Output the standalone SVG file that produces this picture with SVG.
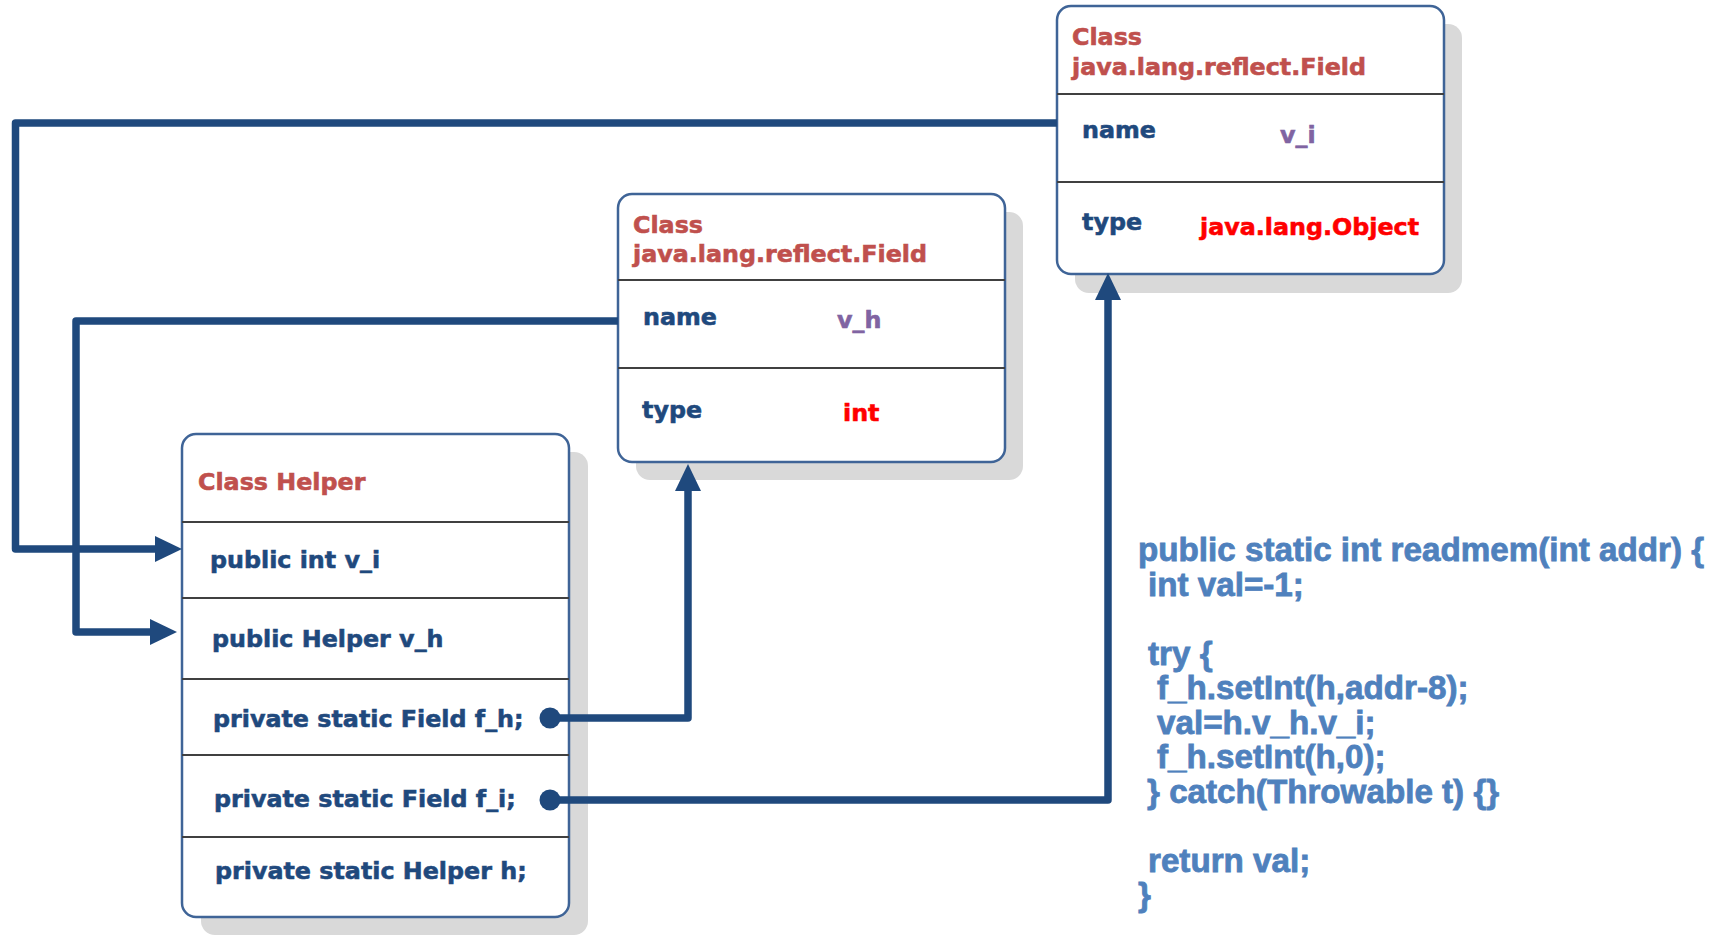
<svg xmlns="http://www.w3.org/2000/svg" width="1723" height="936" viewBox="0 0 1723 936">
<defs>
<style>
.box{fill:#ffffff;stroke:#3f6497;stroke-width:2.5}
.shadow{fill:#d9d9d9;stroke:none}
.div{stroke:#404040;stroke-width:2}
.t{font-family:"DejaVu Sans",Verdana,sans-serif;font-weight:bold;font-size:23.8px;stroke-width:0.6}
.title{fill:#c0504d;stroke:#c0504d}
.lbl{fill:#1f497d;stroke:#1f497d}
.pur{fill:#8064a2;stroke:#8064a2}
.red{fill:#ff0000;stroke:#ff0000}
.code{font-family:"Liberation Sans",Arial,sans-serif;font-weight:bold;font-size:33.2px;fill:#4f81bd;stroke:#4f81bd;stroke-width:0.8}
.conn{fill:none;stroke:#1f497d;stroke-width:7.5;stroke-linejoin:round}
</style>
<marker id="arr" markerUnits="userSpaceOnUse" viewBox="0 0 27 26" refX="3" refY="13" markerWidth="27" markerHeight="26" orient="auto">
<path d="M0,0 L27,13 L0,26 Z" fill="#1f497d"/>
</marker>
<marker id="dot" markerUnits="userSpaceOnUse" viewBox="0 0 22 22" refX="11" refY="11" markerWidth="22" markerHeight="22" orient="auto">
<circle cx="11" cy="11" r="10.5" fill="#1f497d"/>
</marker>
</defs>
<rect width="1723" height="936" fill="#ffffff"/>

<g id="field-vi">
<rect class="shadow" x="1075" y="24" width="387" height="269" rx="14"/>
<rect class="box" x="1057" y="6" width="387" height="268" rx="14"/>
<line class="div" x1="1057" y1="94" x2="1444" y2="94"/>
<line class="div" x1="1057" y1="182" x2="1444" y2="182"/>
<text class="t title" x="1072" y="45">Class</text>
<text class="t title" x="1072" y="75">java.lang.reflect.Field</text>
<text class="t lbl" x="1082" y="138">name</text>
<text class="t pur" x="1280" y="143">v_i</text>
<text class="t lbl" x="1082" y="230">type</text>
<text class="t red" x="1200" y="235">java.lang.Object</text>
</g>

<g id="field-vh">
<rect class="shadow" x="636" y="212" width="387" height="268" rx="14"/>
<rect class="box" x="618" y="194" width="387" height="268" rx="14"/>
<line class="div" x1="618" y1="280" x2="1005" y2="280"/>
<line class="div" x1="618" y1="368" x2="1005" y2="368"/>
<text class="t title" x="633" y="233">Class</text>
<text class="t title" x="633" y="262">java.lang.reflect.Field</text>
<text class="t lbl" x="643" y="325">name</text>
<text class="t pur" x="837" y="328">v_h</text>
<text class="t lbl" x="642" y="418">type</text>
<text class="t red" x="843" y="421">int</text>
</g>

<g id="helper">
<rect class="shadow" x="201" y="452" width="387" height="483" rx="14"/>
<rect class="box" x="182" y="434" width="387" height="483" rx="14"/>
<line class="div" x1="182" y1="522" x2="569" y2="522"/>
<line class="div" x1="182" y1="598" x2="569" y2="598"/>
<line class="div" x1="182" y1="679" x2="569" y2="679"/>
<line class="div" x1="182" y1="755" x2="569" y2="755"/>
<line class="div" x1="182" y1="837" x2="569" y2="837"/>
<text class="t title" x="198" y="490">Class Helper</text>
<text class="t lbl" x="210" y="568">public int v_i</text>
<text class="t lbl" x="212" y="647">public Helper v_h</text>
<text class="t lbl" x="213" y="727">private static Field f_h;</text>
<text class="t lbl" x="214" y="807">private static Field f_i;</text>
<text class="t lbl" x="215" y="879">private static Helper h;</text>
</g>

<g id="connectors">
<polyline class="conn" points="1057,123 15.5,123 15.5,549 158,549" marker-end="url(#arr)"/>
<polyline class="conn" points="618,321 76,321 76,632 153,632" marker-end="url(#arr)"/>
<polyline class="conn" points="550,718 688,718 688,488" marker-start="url(#dot)" marker-end="url(#arr)"/>
<polyline class="conn" points="550,800 1108,800 1108,297" marker-start="url(#dot)" marker-end="url(#arr)"/>
</g>

<g id="code">
<text class="code" x="1138" y="561">public static int readmem(int addr) {</text>
<text class="code" x="1148" y="595.5">int val=-1;</text>
<text class="code" x="1148" y="664.5">try {</text>
<text class="code" x="1157" y="699">f_h.setInt(h,addr-8);</text>
<text class="code" x="1157" y="733.5">val=h.v_h.v_i;</text>
<text class="code" x="1157" y="768">f_h.setInt(h,0);</text>
<text class="code" x="1147" y="802.5">} catch(Throwable t) {}</text>
<text class="code" x="1148" y="871.5">return val;</text>
<text class="code" x="1138" y="906">}</text>
</g>
</svg>
